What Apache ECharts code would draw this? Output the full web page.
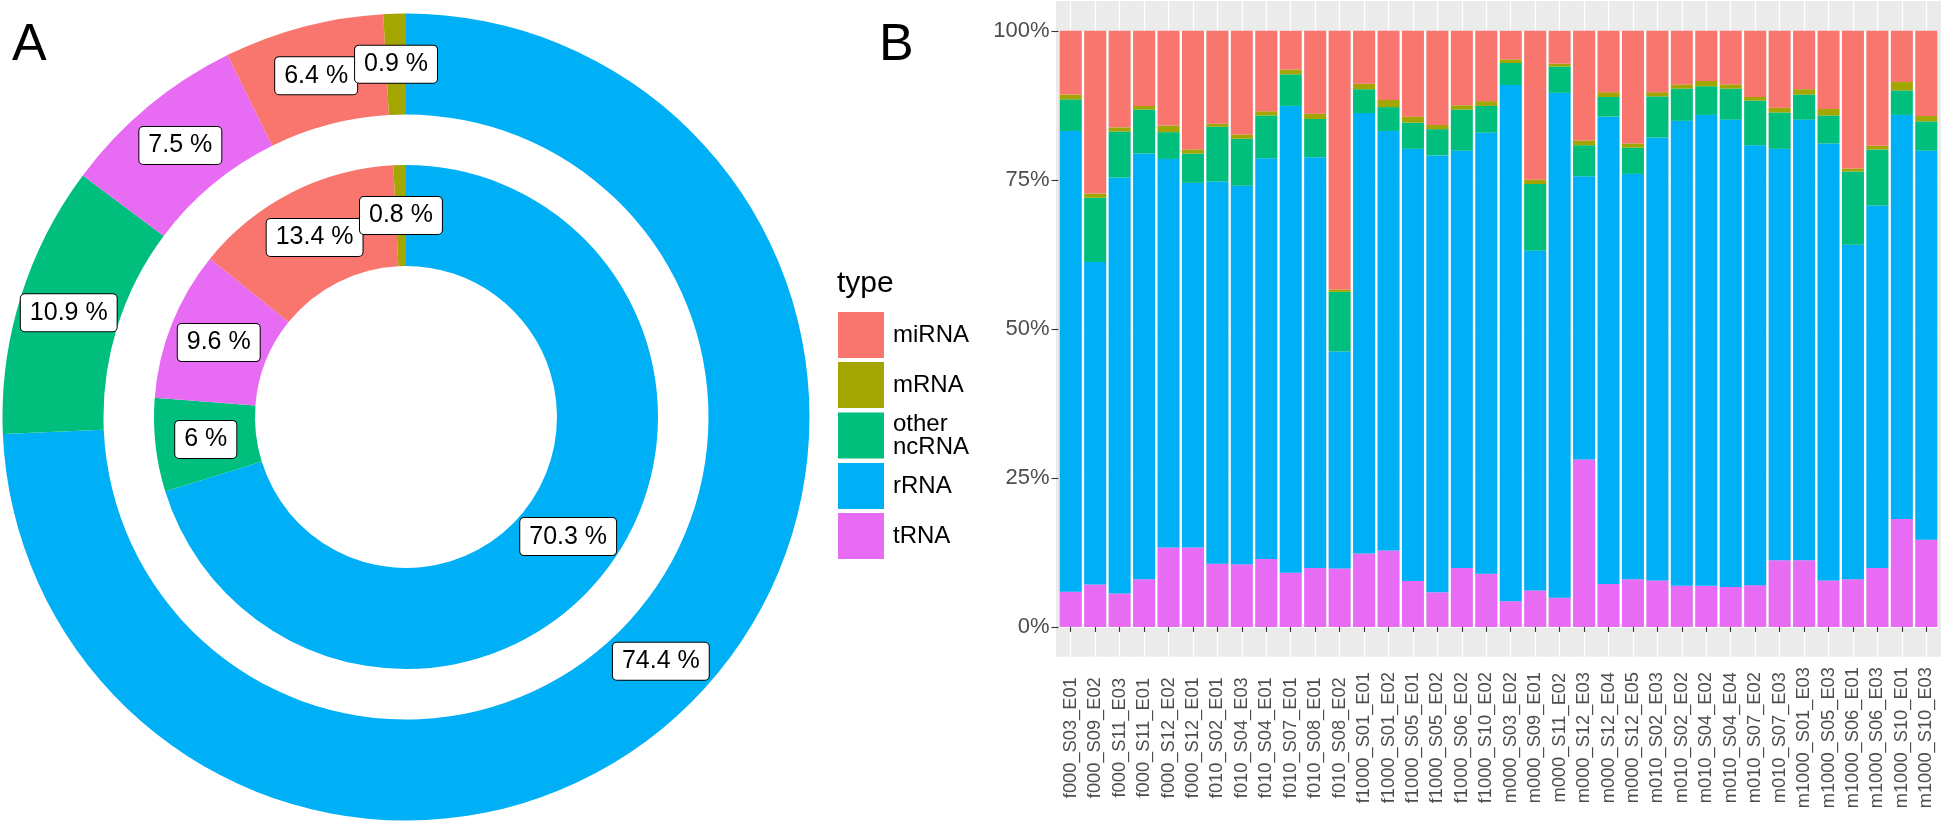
<!DOCTYPE html>
<html><head><meta charset="utf-8">
<script src="https://cdn.jsdelivr.net/npm/echarts@6/dist/echarts.min.js"></script>
<style>html,body{margin:0;padding:0;background:#fff}#c{width:1943px;height:824px}</style>
</head><body><div id="c"></div>
<script>
// ---- data ----
const types = ['miRNA', 'mRNA', 'other ncRNA', 'rRNA', 'tRNA'];
const typeColors = ['#F8766D', '#A3A500', '#00BF7D', '#00B0F6', '#E76BF3'];

const pieOrder = ['rRNA', 'other ncRNA', 'tRNA', 'miRNA', 'mRNA'];
const innerValues = [70.3, 6, 9.6, 13.4, 0.8];
const outerValues = [74.4, 10.9, 7.5, 6.4, 0.9];

const samples = [
  'f000_S03_E01','f000_S09_E02','f000_S11_E03','f000_S11_E01','f000_S12_E02','f000_S12_E01',
  'f010_S02_E01','f010_S04_E03','f010_S04_E01','f010_S07_E01','f010_S08_E01','f010_S08_E02',
  'f1000_S01_E01','f1000_S01_E02','f1000_S05_E01','f1000_S05_E02','f1000_S06_E02','f1000_S10_E02',
  'm000_S03_E02','m000_S09_E01','m000_S11_E02','m000_S12_E03','m000_S12_E04','m000_S12_E05',
  'm010_S02_E03','m010_S02_E02','m010_S04_E02','m010_S04_E04','m010_S07_E02','m010_S07_E03',
  'm1000_S01_E03','m1000_S05_E03','m1000_S06_E01','m1000_S06_E03','m1000_S10_E01','m1000_S10_E03'
];
const tRNA = [5.9,7.1,5.6,8.0,13.3,13.3, 10.6,10.5,11.4,9.1,9.9,9.8, 12.3,12.8,7.7,5.8,9.9,8.9,
              4.3,6.1,4.9,28.1,7.2,8.0, 7.8,6.9,6.9,6.7,7.0,11.2, 11.2,7.8,8.0,9.9,18.1,14.6];
const rRNA = [77.3,54.1,69.8,71.4,65.2,61.2, 64.1,63.5,67.2,78.3,68.9,36.4, 73.9,70.4,72.5,73.3,70.0,74.0,
              86.6,57.0,84.7,47.5,78.4,68.0, 74.3,78.0,79.0,78.4,73.8,69.0, 73.9,73.3,56.1,60.8,67.8,65.3];
const otherNcRNA = [5.3,10.8,7.7,7.4,4.5,4.9, 9.2,7.9,7.2,5.3,6.4,10.0, 4.0,4.0,4.4,4.4,6.9,4.5,
              3.7,11.2,4.4,5.2,3.3,4.4, 6.9,5.4,4.8,5.2,7.5,6.1, 4.2,4.7,12.3,9.4,4.1,4.9];
const mRNA = [0.8,0.7,0.7,0.6,1.1,0.7, 0.5,0.7,0.7,0.8,0.9,0.4, 0.9,1.2,1.0,0.7,0.7,0.8,
              0.6,0.7,0.5,0.8,0.8,0.7, 0.7,0.7,0.9,0.7,0.6,0.8, 0.9,1.1,0.5,0.6,1.4,0.9];
const miRNA = [10.7,27.3,16.2,12.6,15.9,19.9, 15.6,17.4,13.5,6.5,13.9,43.4, 8.9,11.6,14.4,15.8,12.5,11.8,
              4.8,25.0,5.5,18.4,10.3,18.9, 10.3,9.0,8.4,9.0,11.1,12.9, 9.8,13.1,23.1,19.3,8.6,14.3];
const yTicks = [0, 25, 50, 75, 100];

// ---- chart ----
const colorOf = n => typeColors[types.indexOf(n)];
const FONT = '"Liberation Sans", Arial, Helvetica, sans-serif';
const chart = echarts.init(document.getElementById('c'), null, {renderer: 'canvas'});

const CX = 406, CY = 417;
const innerRadius = [151, 252], outerRadius = [302.5, 403.5];

function pieSeries(values, radius) {
  return {
    type: 'pie', center: [CX, CY], radius: radius, startAngle: 90, clockwise: true,
    silent: true, emphasis: {disabled: true},
    labelLine: {show: false}, label: {show: false},
    data: pieOrder.map((n, i) => ({name: n, value: values[i], itemStyle: {color: colorOf(n)}}))
  };
}
// label anchors on a polar system aligned with the pies: angle = middle of each slice (% of ring total)
function ringLabels(values, radius) {
  const total = values.reduce((a, b) => a + b, 0);
  const rMid = (radius[0] + radius[1]) / 2;
  let cum = 0;
  return values.map(v => {
    const mid = (cum + v / 2) / total * 100;
    cum += v;
    return {value: [rMid, mid, v]};
  });
}

const barData = {'tRNA': tRNA, 'rRNA': rRNA, 'other ncRNA': otherNcRNA, 'mRNA': mRNA, 'miRNA': miRNA};
const barSeries = ['tRNA', 'rRNA', 'other ncRNA', 'mRNA', 'miRNA'].map(n => ({
  type: 'bar', name: n, stack: 'total', xAxisIndex: 0, yAxisIndex: 0,
  barCategoryGap: '10%', silent: true, emphasis: {disabled: true},
  itemStyle: {color: colorOf(n)}, data: barData[n]
}));

chart.setOption({
  animation: false,
  textStyle: {fontFamily: FONT},
  title: [
    {text: 'A', left: 12, top: 20, padding: 0, textStyle: {fontSize: 52, fontWeight: 'normal', color: '#000', fontFamily: FONT}},
    {text: 'B', left: 879, top: 20, padding: 0, textStyle: {fontSize: 52, fontWeight: 'normal', color: '#000', fontFamily: FONT}},
    {text: 'type', left: 837, top: 269, padding: 0, textStyle: {fontSize: 30, fontWeight: 'normal', color: '#000', fontFamily: FONT}}
  ],
  legend: {
    orient: 'vertical', left: 838, top: 312, padding: 0, itemWidth: 46, itemHeight: 46, itemGap: 4,
    icon: 'rect', selectedMode: false, data: types,
    formatter: n => n === 'other ncRNA' ? 'other\nncRNA' : n,
    textStyle: {fontSize: 24, color: '#000', lineHeight: 23, padding: [0, 0, 0, 4], fontFamily: FONT}
  },
  polar: {center: [CX, CY], radius: [0, outerRadius[1]]},
  angleAxis: {type: 'value', min: 0, max: 100, startAngle: 90, clockwise: true,
              axisLine: {show: false}, axisTick: {show: false}, axisLabel: {show: false}, splitLine: {show: false}},
  radiusAxis: {type: 'value', min: 0, max: outerRadius[1],
               axisLine: {show: false}, axisTick: {show: false}, axisLabel: {show: false}, splitLine: {show: false}},
  grid: [
    {left: 1058.5, right: 4.5, top: 1, bottom: 167.3, outerBoundsMode: 'none'},
    {left: 1058.5, right: 4.5, top: 31, bottom: 197.3, outerBoundsMode: 'none'},
    {left: 1056, right: 2, top: 1, bottom: 167.3, show: true, backgroundColor: '#EBEBEB', borderWidth: 0, outerBoundsMode: 'none'}
  ],
  xAxis: [
    {type: 'category', gridIndex: 0, data: samples, boundaryGap: true,
     axisLine: {show: false},
     axisTick: {show: true, alignWithLabel: true, interval: 0, length: 5, lineStyle: {color: '#333', width: 1.1}},
     axisLabel: {show: true, interval: 0, rotate: 90, align: 'center', verticalAlign: 'middle', margin: 81,
                 fontSize: 18.3, color: '#4D4D4D', fontFamily: FONT},
     splitLine: {show: true, alignWithLabel: true, interval: 0, lineStyle: {color: '#fff', width: 1.2}}},
    {type: 'category', gridIndex: 1, data: samples, boundaryGap: true,
     axisLine: {show: false}, axisTick: {show: false}, axisLabel: {show: false},
     splitLine: {show: true, interval: 0, showMinLine: false, showMaxLine: false, lineStyle: {color: '#fff', width: 2.4}}},
    {type: 'category', gridIndex: 2, data: samples, show: false}
  ],
  yAxis: [
    {type: 'value', gridIndex: 0, min: -5, max: 105,
     axisLine: {show: false},
     axisTick: {show: true, length: 7, customValues: yTicks, lineStyle: {color: '#333', width: 1.1}},
     axisLabel: {show: true, customValues: yTicks, formatter: v => v + '%', margin: 9,
                 fontSize: 22, color: '#4D4D4D', fontFamily: FONT},
     splitLine: {show: true, lineStyle: {color: '#fff', width: 1.2}}},
    {type: 'value', gridIndex: 1, min: 0, max: 100, show: false},
    {type: 'value', gridIndex: 2, min: 0, max: 100, show: false}
  ],
  series: [
    pieSeries(innerValues, innerRadius),
    pieSeries(outerValues, outerRadius),
    ...barSeries,
    {
      type: 'scatter', coordinateSystem: 'polar', polarIndex: 0, symbol: 'circle', symbolSize: 2,
      itemStyle: {color: 'rgba(0,0,0,0)', opacity: 1},
      silent: true, z: 5, emphasis: {disabled: true},
      data: ringLabels(innerValues, innerRadius).concat(ringLabels(outerValues, outerRadius)),
      label: {
        show: true, position: 'inside', formatter: p => p.value[2] + ' %',
        fontSize: 25, lineHeight: 25, color: '#000', fontFamily: FONT,
        backgroundColor: '#fff', borderColor: '#000', borderWidth: 1, borderRadius: 4,
        padding: [6, 9]
      },
      labelLayout: {moveOverlap: 'shiftX'}
    }
  ]
});
</script></body></html>
